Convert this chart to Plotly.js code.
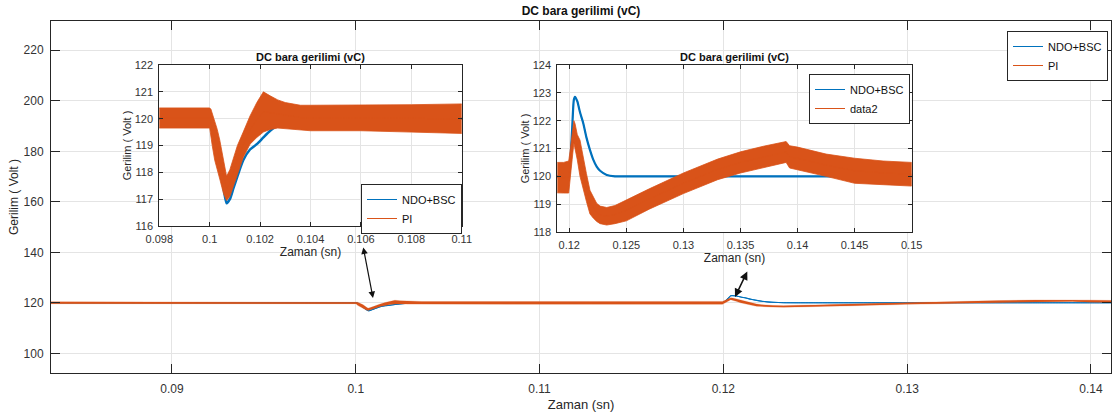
<!DOCTYPE html>
<html>
<head>
<meta charset="utf-8">
<script src="https://cdn.plot.ly/plotly-3.0.1.min.js"></script>
<style>html,body{margin:0;padding:0;background:#fff;}#chart{width:1112px;height:417px;}</style>
</head>
<body>
<div id="chart"></div>
<script>
// ---- data ----
const time = [0.0834,0.090,0.095,0.098,0.0995,0.1000,0.10005,0.1001,0.1002,0.1003,0.1004,0.10055,0.10067,0.1008,0.10094,0.1011,0.10133,0.1016,0.10187,0.10213,0.1024,0.1027,0.103,0.1036,0.104,0.106,0.108,0.110,0.115,0.1195,0.11995,0.1201,0.12025,0.1204,0.1205,0.1207,0.12094,0.12123,0.1215,0.12181,0.1221,0.1224,0.1227,0.12328,0.124,0.125,0.127,0.130,0.1318,0.133,0.135,0.137,0.139,0.1393,0.140,0.1425,0.145,0.1475,0.150];
const ndoBsc = [120.0,120.0,120.0,120.0,120.0,120.0,120.0,119.8,119.3,118.8,118.2,117.4,116.85,117.0,117.4,117.85,118.45,118.85,119.05,119.3,119.55,119.75,119.85,119.95,120.0,120.0,120.0,120.0,120.0,120.0,120.0,120.6,121.7,122.75,122.86,122.7,122.3,121.9,121.4,120.95,120.6,120.35,120.2,120.05,120.0,120.0,120.0,120.0,120.0,120.0,120.0,120.0,120.0,120.0,120.0,120.0,120.0,120.0,120.0];
const piUpper = [120.4,120.4,120.4,120.4,120.4,120.4,120.35,120.2,119.9,119.6,119.2,118.4,117.85,118.1,118.55,119.0,119.5,120.1,120.6,121.0,120.85,120.7,120.6,120.5,120.5,120.5,120.52,120.55,120.5,120.5,120.55,121.0,121.6,122.0,121.9,121.5,121.3,120.6,120.1,119.5,119.25,119.03,118.93,118.88,118.95,119.15,119.55,120.12,120.42,120.62,120.88,121.08,121.25,121.1,121.05,120.8,120.65,120.55,120.5];
const piLower = [119.65,119.65,119.65,119.65,119.65,119.65,119.4,119.0,118.45,118.1,117.75,117.2,116.95,117.1,117.5,117.95,118.55,119.05,119.3,119.5,119.6,119.65,119.65,119.58,119.55,119.55,119.5,119.45,119.42,119.4,119.4,119.9,120.6,121.2,121.0,120.6,120.0,119.5,119.1,118.65,118.5,118.38,118.3,118.25,118.3,118.4,118.82,119.38,119.68,119.88,120.12,120.32,120.5,120.3,120.25,120.0,119.75,119.7,119.65];

const mainXTicks = [0.09,0.10,0.11,0.12,0.13,0.14];
const mainXLabels = ['0.09','0.1','0.11','0.12','0.13','0.14'];
const mainYTicks = [100,120,140,160,180,200,220];
const inset1XTicks = [0.098,0.100,0.102,0.104,0.106,0.108,0.110];
const inset1XLabels = ['0.098','0.1','0.102','0.104','0.106','0.108','0.11'];
const inset1YTicks = [116,117,118,119,120,121,122];
const inset2XTicks = [0.12,0.125,0.13,0.135,0.14,0.145,0.15];
const inset2XLabels = ['0.12','0.125','0.13','0.135','0.14','0.145','0.15'];
const inset2YTicks = [118,119,120,121,122,123,124];

const titleText = 'DC bara gerilimi (vC)';
const xTitle = 'Zaman (sn)';
const yTitle = 'Gerilim ( Volt )';
const blueName = 'NDO+BSC';
const orangeNames = ['PI','PI','data2'];

// ---- build ----
const BLUE = '#0072BD', ORANGE = '#D95319';
const bandX = time.concat(time.slice().reverse());
const bandY = piUpper.concat(piLower.slice().reverse());
const piCenter = piUpper.map((u, i) => (u + piLower[i]) / 2);

function traceSet(xa, ya, leg, oName, blueW, edgeW) {
  return [
    {x: time, y: ndoBsc, xaxis: xa, yaxis: ya, type: 'scatter', mode: 'lines',
     line: {color: BLUE, width: blueW, shape: 'spline', smoothing: 0.6}, showlegend: false, hoverinfo: 'skip'},
    {x: time, y: ndoBsc, xaxis: xa, yaxis: ya, type: 'scatter', mode: 'lines',
     line: {color: BLUE, width: 1, shape: 'spline', smoothing: 0.6}, name: blueName, legend: leg, showlegend: true},
    {x: bandX, y: bandY, xaxis: xa, yaxis: ya, type: 'scatter', mode: 'lines', fill: 'toself',
     fillcolor: ORANGE, line: {color: ORANGE, width: edgeW}, showlegend: false, hoverinfo: 'skip'},
    {x: time, y: piCenter, xaxis: xa, yaxis: ya, type: 'scatter', mode: 'lines',
     line: {color: ORANGE, width: 1}, name: oName, legend: leg, showlegend: true}
  ];
}

const data = [].concat(
  traceSet('x', 'y', 'legend', orangeNames[0], 1.1, 0.25),
  traceSet('x2', 'y2', 'legend2', orangeNames[1], 2.5, 0.8),
  traceSet('x3', 'y3', 'legend3', orangeNames[2], 2.2, 0.8)
);

const FONT = 'Liberation Sans, Arial, Helvetica, sans-serif';
function axis(extra) {
  return Object.assign({
    showline: true, mirror: 'ticks', linecolor: '#262626', linewidth: 1,
    ticks: 'inside', ticklen: 4, tickcolor: '#262626', tickwidth: 1,
    showgrid: true, gridcolor: '#e4e4e4', gridwidth: 1, zeroline: false,
    tickfont: {family: FONT, size: 11, color: '#333'}, fixedrange: true,
    tickmode: 'array', ticklabelstandoff: 3
  }, extra);
}

const W = 1112, H = 417, ML = 51, MR = 1, MT = 21, MB = 44;
const PW = W - ML - MR, PH = H - MT - MB;
function px(xp) { return (xp - ML) / PW; }
function py(yp) { return (H - MB - yp) / PH; }

const layout = {
  width: W, height: H,
  margin: {l: ML, r: MR, t: MT, b: MB, pad: 0},
  paper_bgcolor: '#fff', plot_bgcolor: '#fff',
  font: {family: FONT, color: '#262626'},
  showlegend: true,
  title: {text: '<b>' + titleText + '</b>', font: {family: FONT, size: 12, color: '#111'},
          xref: 'paper', x: 0.5, xanchor: 'center', yref: 'container', y: 1 - 11 / H, yanchor: 'middle'},
  xaxis: axis({domain: [0, 1], anchor: 'y', range: [0.08342, 0.14109], tickvals: mainXTicks, ticktext: mainXLabels,
               ticklen: 9, tickfont: {family: FONT, size: 12, color: '#333'}, ticklabelstandoff: 5,
               title: {text: xTitle, font: {family: FONT, size: 13, color: '#262626'}, standoff: 4}}),
  yaxis: axis({domain: [0, 1], anchor: 'x', range: [92.2, 231.6], tickvals: mainYTicks,
               ticklen: 9, tickfont: {family: FONT, size: 12, color: '#333'}, ticklabelstandoff: 4,
               title: {text: yTitle, font: {family: FONT, size: 12, color: '#262626'}, standoff: 2}}),
  xaxis2: axis({domain: [px(159.3), px(461.7)], anchor: 'y2', range: [0.098, 0.11], tickvals: inset1XTicks, ticktext: inset1XLabels,
                title: {text: xTitle, font: {family: FONT, size: 12, color: '#262626'}, standoff: 1}}),
  yaxis2: axis({domain: [py(226), py(65)], anchor: 'x2', range: [116, 122], tickvals: inset1YTicks,
                title: {text: yTitle, font: {family: FONT, size: 11, color: '#262626'}, standoff: 0}}),
  xaxis3: axis({domain: [px(557.3), px(911.7)], anchor: 'y3', range: [0.11895, 0.15], tickvals: inset2XTicks, ticktext: inset2XLabels,
                title: {text: xTitle, font: {family: FONT, size: 12, color: '#262626'}, standoff: 1}}),
  yaxis3: axis({domain: [py(232), py(65)], anchor: 'x3', range: [118, 124], tickvals: inset2YTicks,
                title: {text: yTitle, font: {family: FONT, size: 11, color: '#262626'}, standoff: 0}}),
  legend: {x: px(1007), y: py(31), xanchor: 'left', yanchor: 'top', bgcolor: '#fff', bordercolor: '#262626', borderwidth: 1,
           font: {family: FONT, size: 11, color: '#111'}, tracegroupgap: 0},
  legend2: {x: px(361), y: py(234), xanchor: 'left', yanchor: 'bottom', bgcolor: '#fff', bordercolor: '#262626', borderwidth: 1,
            font: {family: FONT, size: 11, color: '#111'}, tracegroupgap: 0},
  legend3: {x: px(809), y: py(74), xanchor: 'left', yanchor: 'top', bgcolor: '#fff', bordercolor: '#262626', borderwidth: 1,
            font: {family: FONT, size: 11, color: '#111'}, tracegroupgap: 0},
  annotations: [
    {text: '<b>' + titleText + '</b>', xref: 'paper', yref: 'paper', x: (px(159.3) + px(461.7)) / 2, y: py(65),
     xanchor: 'center', yanchor: 'bottom', showarrow: false, font: {family: FONT, size: 11, color: '#111'}, yshift: 0},
    {text: '<b>' + titleText + '</b>', xref: 'paper', yref: 'paper', x: (px(557.3) + px(911.7)) / 2, y: py(65),
     xanchor: 'center', yanchor: 'bottom', showarrow: false, font: {family: FONT, size: 11, color: '#111'}, yshift: 0},
    {text: '', xref: 'paper', yref: 'paper', x: px(373), y: py(298), ax: -10, ay: -52,
     showarrow: true, arrowhead: 2, startarrowhead: 2, arrowside: 'end+start', arrowsize: 1.1, startarrowsize: 1.1, arrowwidth: 1.2, arrowcolor: '#111'},
    {text: '', xref: 'paper', yref: 'paper', x: px(735), y: py(297), ax: 13, ay: -27,
     showarrow: true, arrowhead: 2, startarrowhead: 2, arrowside: 'end+start', arrowsize: 1.1, startarrowsize: 1.1, arrowwidth: 1.5, arrowcolor: '#111'}
  ],
  hovermode: false
};

Plotly.newPlot('chart', data, layout, {displayModeBar: false, staticPlot: true});
</script>
</body>
</html>
